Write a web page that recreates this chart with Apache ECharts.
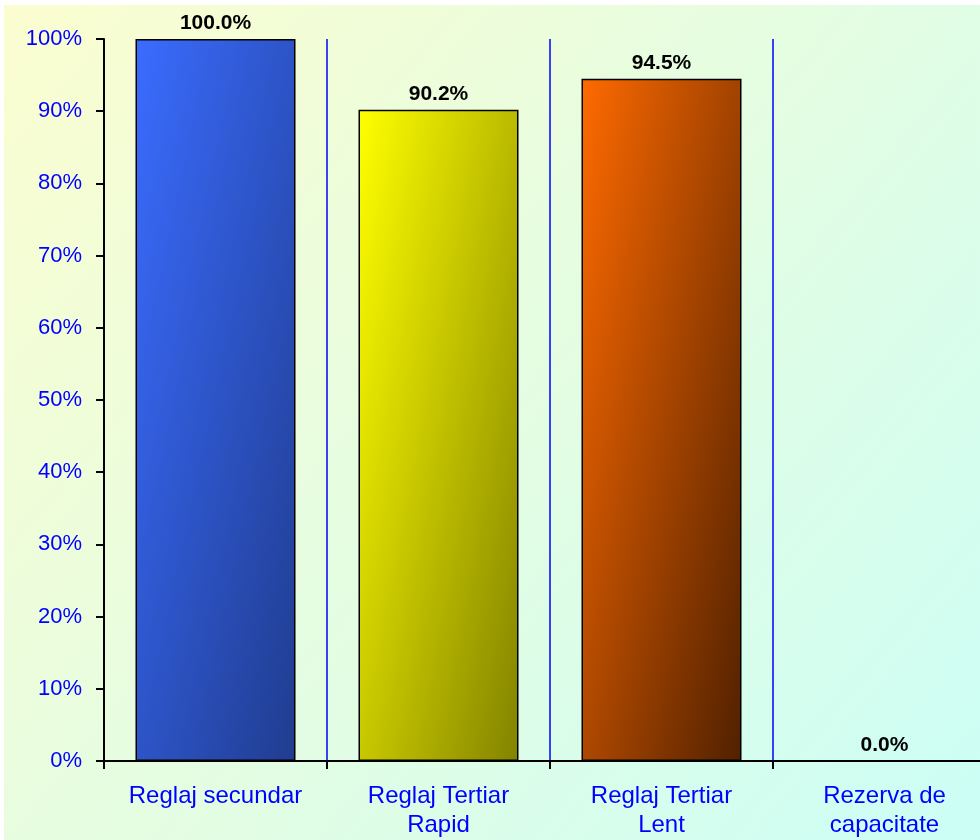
<!DOCTYPE html>
<html><head><meta charset="utf-8">
<script src="https://cdn.jsdelivr.net/npm/echarts@6/dist/echarts.min.js"></script>
<style>
html,body{margin:0;padding:0;background:#fff;overflow:hidden;width:980px;height:840px;}
#c{position:absolute;left:4px;top:5px;width:1000px;height:835px;}
</style></head><body>
<div id="c"></div>
<script>
const categories = ['Reglaj secundar', 'Reglaj Tertiar\nRapid', 'Reglaj Tertiar\nLent', 'Rezerva de\ncapacitate'];
const values = [100.0, 90.2, 94.5, 0.0];
const yTicks = [0, 10, 20, 30, 40, 50, 60, 70, 80, 90, 100];
const barGradients = [
  ['#3a6cff', '#203c8e'],
  ['#ffff00', '#767600'],
  ['#ff6a00', '#461c00'],
  ['#ff6a00', '#461c00']
];

const chart = echarts.init(document.getElementById('c'));
// Excel-style diagonal gradient: isolines run corner to corner (top-right to bottom-left)
const grad = (c) => new echarts.graphic.LinearGradient(0, 0, 1.9, 0.09, [{offset:0,color:c[0]},{offset:1,color:c[1]}]);

chart.setOption({
  animation: false,
  backgroundColor: new echarts.graphic.LinearGradient(0, 0, 1, 1, [
    {offset: 0, color: '#fbfdd0'},
    {offset: 0.5, color: '#e4fde2'},
    {offset: 1, color: '#cbfef6'}
  ]),
  grid: {left: 100, top: 34, width: 892, height: 723, containLabel: false},
  xAxis: {
    type: 'category',
    data: categories,
    axisLine: {lineStyle: {color: '#000', width: 2}},
    axisTick: {show: true, length: 8, lineStyle: {color: '#000', width: 2}},
    axisLabel: {color: '#0000ff', fontSize: 24, fontFamily: 'Liberation Sans', lineHeight: 29, margin: 21, interval: 0},
    splitLine: {show: true, lineStyle: {color: '#0000ff', width: 1.5}}
  },
  yAxis: {
    type: 'value',
    min: yTicks[0], max: yTicks[yTicks.length - 1], interval: 10,
    axisLine: {show: true, lineStyle: {color: '#000', width: 2}},
    axisTick: {show: true, length: 8, lineStyle: {color: '#000', width: 2}},
    axisLabel: {color: '#0000ff', fontSize: 22, fontFamily: 'Liberation Sans', margin: 22, formatter: v => v + '%'},
    splitLine: {show: false}
  },
  series: [{
    type: 'bar',
    barWidth: 160,
    data: values.map((v, i) => ({value: v, itemStyle: {color: grad(barGradients[i])}})),
    itemStyle: {borderColor: '#000', borderWidth: 1.5},
    label: {
      show: true, position: 'top', distance: 5,
      color: '#000', fontWeight: 'bold', fontSize: 21, fontFamily: 'Liberation Sans',
      formatter: p => p.value.toFixed(1) + '%'
    }
  }]
});
</script>
</body></html>
